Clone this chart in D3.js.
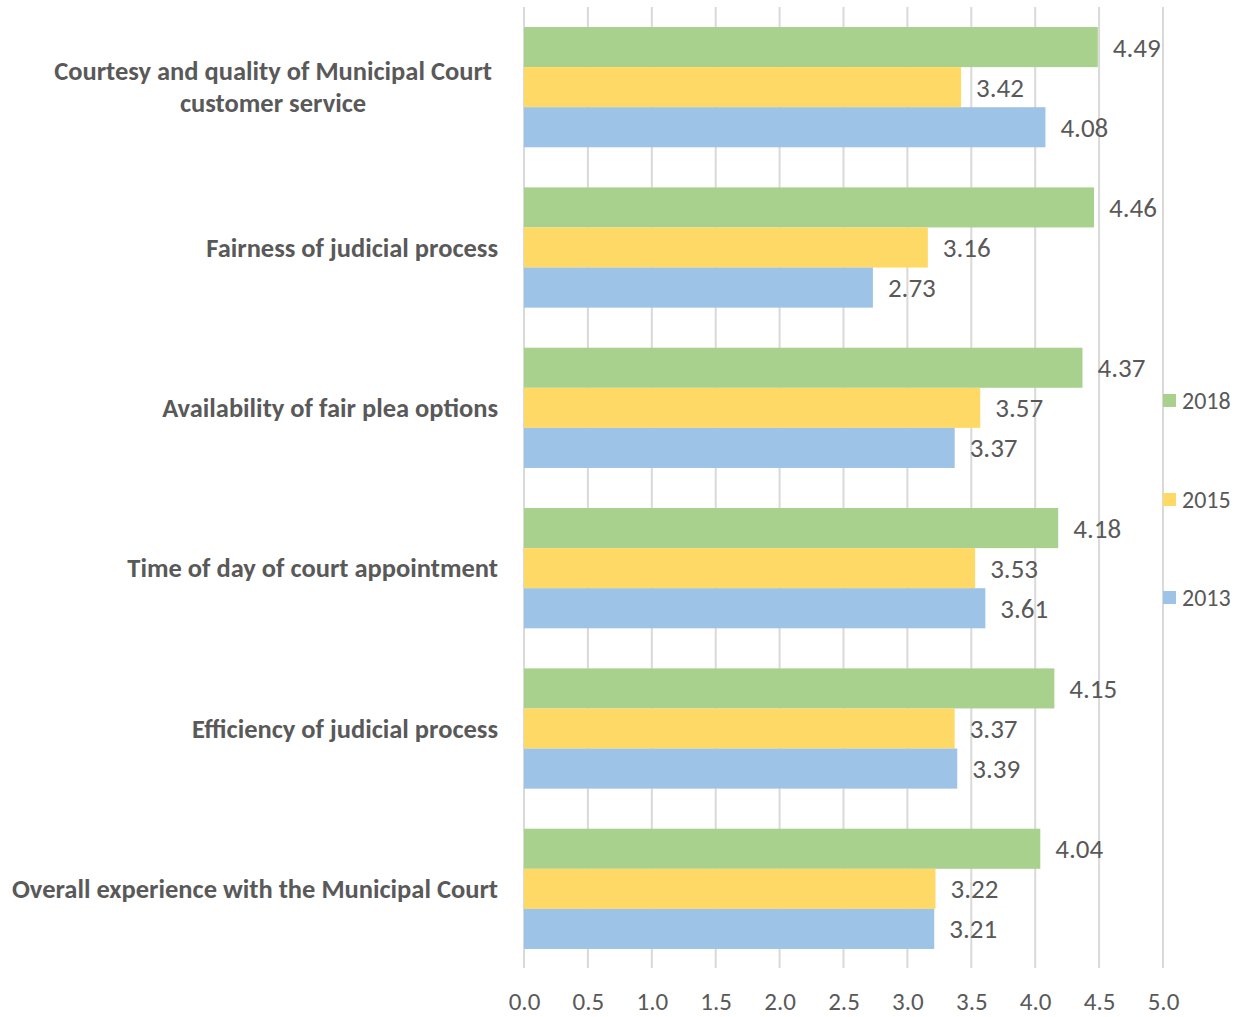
<!DOCTYPE html>
<html><head><meta charset="utf-8">
<script src="https://cdn.jsdelivr.net/npm/d3@7"></script>
<style>body{margin:0;background:#fff;} svg{display:block;}</style>
</head><body>
<svg id="chart" width="1242" height="1017"></svg>
<script>
const categories = [
  "Courtesy and quality of Municipal Court\ncustomer service",
  "Fairness of judicial process",
  "Availability of fair plea options",
  "Time of day of court appointment",
  "Efficiency of judicial process",
  "Overall experience with the Municipal Court"
];
const seriesNames = ["2018", "2015", "2013"];
const values2018 = [4.49, 4.46, 4.37, 4.18, 4.15, 4.04];
const values2015 = [3.42, 3.16, 3.57, 3.53, 3.37, 3.22];
const values2013 = [4.08, 2.73, 3.37, 3.61, 3.39, 3.21];
const xTicks = [0, 0.5, 1, 1.5, 2, 2.5, 3, 3.5, 4, 4.5, 5];
const colors = {"2018": "#A9D18E", "2015": "#FFD966", "2013": "#9DC3E6"};

const seriesValues = {"2018": values2018, "2015": values2015, "2013": values2013};
const svg = d3.select("#chart");
const textColor = "#595959";
const font = "Calibri, Carlito, 'Open Sans', sans-serif";

const x = d3.scaleLinear().domain([0, 5]).range([524, 1163]);
const y = d3.scaleBand().domain(categories).range([7, 969]).paddingInner(0.25).paddingOuter(0.125);
const ys = d3.scaleBand().domain(seriesNames).range([0, y.bandwidth()]);

// gridlines
svg.append("g").selectAll("line").data(xTicks).join("line")
  .attr("x1", d => x(d)).attr("x2", d => x(d))
  .attr("y1", 7).attr("y2", 968)
  .attr("stroke", "#D9D9D9").attr("stroke-width", 2);

// x tick labels
const xAxis = d3.axisBottom(x).tickValues(xTicks).tickFormat(d3.format(".1f")).tickSize(0).tickPadding(0);
const gx = svg.append("g").attr("transform", "translate(0,1001)").call(xAxis);
gx.select(".domain").remove();
gx.selectAll("text").attr("dy", "0.35em").attr("fill", textColor)
  .style("font-family", font).style("font-size", "25px");

// bars
const groups = svg.append("g").selectAll("g").data(categories).join("g")
  .attr("transform", d => `translate(0,${y(d)})`);
groups.each(function(cat, i) {
  const g = d3.select(this);
  const rows = seriesNames.map(s => ({s, v: seriesValues[s][i]}));
  g.selectAll("rect").data(rows).join("rect")
    .attr("x", x(0)).attr("y", d => ys(d.s))
    .attr("width", d => x(d.v) - x(0)).attr("height", ys.bandwidth())
    .attr("fill", d => colors[d.s]);
  g.selectAll("text").data(rows).join("text")
    .attr("x", d => x(d.v) + 15).attr("y", d => ys(d.s) + ys.bandwidth() / 2)
    .attr("dy", "0.35em").attr("fill", textColor)
    .style("font-family", font).style("font-size", "27px")
    .text(d => d.v.toFixed(2));
});

// category labels
const labelRight = 498;
categories.forEach(cat => {
  const lines = cat.split("\n");
  const cy = y(cat) + y.bandwidth() / 2;
  const t = svg.append("text").attr("fill", textColor)
    .style("font-family", font).style("font-size", "26.5px").style("font-weight", "bold");
  if (lines.length === 1) {
    t.attr("x", labelRight).attr("y", cy).attr("dy", "0.35em").attr("text-anchor", "end").text(cat);
  } else {
    const lh = 32;
    lines.forEach((ln, k) => {
      t.append("tspan").attr("x", 0).attr("y", cy + (k - (lines.length - 1) / 2) * lh)
        .attr("dy", "0.35em").attr("text-anchor", "middle").text(ln);
    });
    const w = t.node().getBBox().width;
    t.selectAll("tspan").attr("x", labelRight - 6 - w / 2);
  }
});

// legend
const legY = {"2018": 401, "2015": 500, "2013": 598};
const leg = svg.append("g").selectAll("g").data(seriesNames).join("g")
  .attr("transform", d => `translate(1163,${legY[d]})`);
leg.append("rect").attr("x", 0).attr("y", -7).attr("width", 13).attr("height", 13).attr("fill", d => colors[d]);
leg.append("text").attr("x", 19).attr("y", 0).attr("dy", "0.35em").attr("fill", textColor)
  .style("font-family", font).style("font-size", "24px").text(d => d);
</script>
</body></html>
